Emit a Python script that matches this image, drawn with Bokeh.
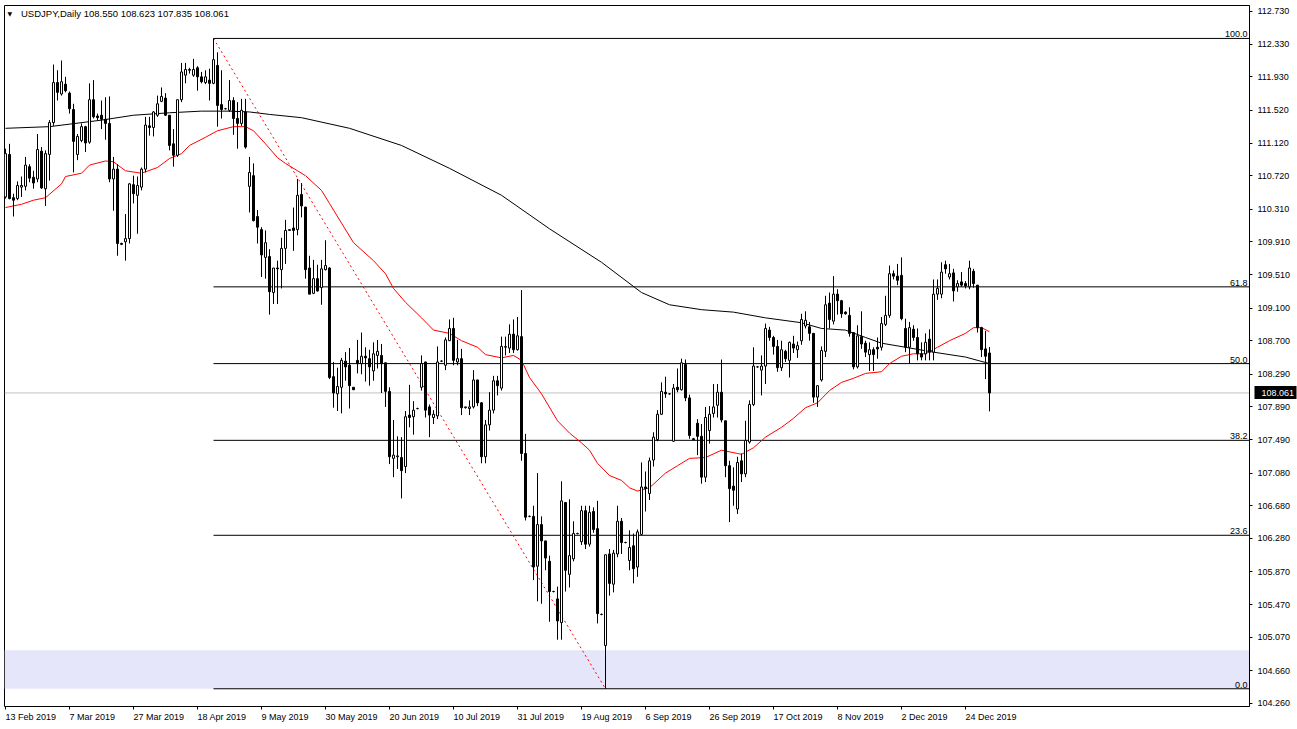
from bokeh.plotting import figure
from bokeh.models import (Range1d, FixedTicker, Span, BoxAnnotation, Label,
                          ColumnDataSource, PrintfTickFormatter, LinearAxis)
from bokeh.embed import file_html
from bokeh.resources import INLINE
from bokeh.core.properties import value

# ---------------- data ----------------
symbol_title = "USDJPY,Daily  108.550 108.623 107.835 108.061"
last_price = 108.061

opens = [110.46,110.98,110.45,110.44,110.58,110.59,110.83,110.70,110.68,111.02,
         110.56,110.98,111.37,111.86,111.72,111.84,111.73,111.53,110.98,111.15,
         111.32,111.13,111.65,111.45,111.46,111.41,111.36,110.68,110.80,109.89,
         109.91,109.95,110.61,110.48,110.58,110.80,111.33,111.31,111.46,111.63,
         111.67,111.46,111.11,110.97,111.65,111.95,112.01,111.95,112.04,111.93,
         111.86,111.89,111.85,112.07,111.59,111.54,111.52,111.64,111.42,111.36,
         111.50,110.59,110.72,110.22,110.06,109.72,109.73,109.29,109.59,109.57,
         109.83,110.05,110.08,110.06,110.49,110.335,109.59,109.28,109.46,109.35,
         109.57,109.59,108.26,108.05,108.13,108.45,108.40,108.13,108.46,108.42,
         108.51,108.48,108.33,108.52,108.52,108.43,108.08,107.26,107.28,107.27,
         107.16,107.79,107.77,107.87,108.13,108.44,107.89,107.76,107.78,108.45,
         108.40,108.70,108.85,108.44,108.48,107.88,107.87,107.89,108.22,107.94,
         107.28,107.67,107.85,108.21,108.12,108.62,108.61,108.78,108.59,108.75,
         107.32,106.55,106.55,105.94,106.45,106.25,106.00,105.63,105.54,105.25,
         106.72,105.84,106.03,106.34,106.24,106.62,106.21,106.61,106.40,105.35,
         104.97,106.09,105.72,106.09,106.49,106.23,106.01,106.19,105.93,106.33,
         106.91,106.83,107.24,107.49,107.80,108.07,108.05,107.47,108.13,108.10,
         108.41,108.00,107.50,107.69,107.53,107.03,107.60,107.81,107.91,108.07,
         107.72,107.17,106.92,106.64,107.23,107.07,107.46,107.92,108.38,108.34,
         108.39,108.83,108.74,108.63,108.37,108.57,108.46,108.66,108.59,108.70,
         108.88,108.87,108.79,108.01,108.22,108.57,109.16,108.94,109.27,109.19,
         109.05,109.01,108.80,108.38,108.75,108.67,108.53,108.59,108.62,108.62,
         108.90,109.01,109.52,109.49,109.50,108.85,108.62,108.84,108.74,108.54,
         108.54,108.72,108.56,109.27,109.27,109.63,109.48,109.53,109.36,109.42,
         109.40,109.36,109.55,109.38,108.86,108.60,108.550]
highs = [111.05,111.11,110.50,110.65,110.71,110.95,110.86,110.78,111.23,111.07,
         111.03,111.40,112.08,112.01,112.13,111.93,111.75,111.60,111.23,111.36,
         111.33,111.85,111.89,111.48,111.64,111.68,111.69,110.95,110.86,109.90,
         110.25,110.63,110.72,110.71,110.82,111.44,111.44,111.51,111.70,111.80,
         111.73,111.46,111.29,111.65,112.10,112.10,112.04,112.15,112.06,111.99,
         112.01,112.03,112.40,112.23,112.01,111.55,111.89,111.68,111.62,111.66,
         111.66,110.95,110.87,110.30,110.09,110.05,109.82,109.59,109.68,109.96,
         110.18,110.06,110.33,110.68,110.63,110.34,109.74,109.69,109.63,109.69,
         109.93,109.60,108.44,108.37,108.49,108.56,108.61,108.13,108.71,108.80,
         108.62,108.59,108.68,108.71,108.66,108.43,108.13,107.73,107.53,107.52,
         107.84,108.16,107.96,107.88,108.52,108.44,107.92,107.85,108.63,108.46,
         108.74,108.96,108.98,108.71,108.60,107.89,107.97,108.34,108.22,107.95,
         107.73,108.07,108.27,108.27,108.75,108.75,108.90,108.96,108.99,109.32,
         107.56,106.56,106.68,107.08,106.55,106.25,106.07,105.64,105.69,106.98,
         106.72,106.76,106.49,106.35,106.68,106.68,106.68,106.66,106.74,105.36,
         106.08,106.15,106.14,106.68,106.53,106.24,106.38,106.34,106.39,107.21,
         107.10,107.27,107.58,107.85,108.19,108.26,108.06,108.17,108.36,108.48,
         108.47,108.04,107.51,107.74,107.68,107.89,107.90,108.17,108.17,108.47,
         107.72,107.23,107.15,107.28,107.32,107.72,107.97,108.62,108.39,108.52,
         108.91,108.87,108.76,108.71,108.70,108.59,108.69,108.76,108.69,109.03,
         109.06,108.93,108.79,108.15,108.63,109.25,109.29,109.49,109.33,109.20,
         109.06,109.11,108.80,108.89,109.06,108.70,108.68,108.62,108.74,108.99,
         109.25,109.62,109.56,109.64,109.72,108.97,108.93,108.89,108.85,108.68,
         108.79,108.84,109.45,109.45,109.66,109.68,109.64,109.58,109.44,109.54,
         109.43,109.68,109.58,109.38,108.87,108.82,108.623]
lows = [110.44,110.43,110.22,110.42,110.46,110.54,110.64,110.56,110.64,110.56,
        110.35,110.66,111.33,111.64,111.70,111.74,111.48,110.76,110.91,111.13,
        111.01,111.11,111.42,111.40,111.29,111.16,110.64,110.29,109.74,109.87,
        109.68,109.89,110.38,110.01,110.54,110.76,111.21,111.20,111.44,111.62,
        111.45,111.03,110.83,110.95,111.62,111.85,111.97,111.93,111.76,111.85,
        111.84,111.64,111.84,111.32,111.42,111.53,111.50,111.22,111.05,111.33,
        111.05,110.27,110.16,109.89,109.48,109.46,109.02,109.15,109.15,109.34,
        109.64,110.05,109.80,109.99,110.21,109.46,109.27,109.27,109.30,109.14,
        109.56,108.23,107.88,107.84,107.81,108.21,107.87,108.10,108.30,108.29,
        108.20,108.15,108.21,108.36,108.06,107.89,107.19,107.03,107.13,106.77,
        107.08,107.64,107.55,107.86,108.09,107.76,107.52,107.68,107.74,108.44,
        108.34,108.70,108.40,108.40,107.79,107.87,107.79,107.87,107.90,107.20,
        107.20,107.60,107.81,108.03,108.09,108.52,108.55,108.55,108.58,107.23,
        106.50,106.54,105.77,105.51,105.48,105.89,105.26,105.62,105.04,105.04,
        105.63,105.68,106.00,106.33,106.20,106.15,106.18,106.35,105.24,105.34,
        104.44,105.58,105.62,106.05,106.09,106.22,105.89,105.73,105.81,106.32,
        106.61,106.75,107.16,107.47,107.79,108.00,108.04,107.46,108.07,108.09,
        107.96,107.50,107.48,107.30,106.95,106.97,107.44,107.76,107.76,107.70,
        107.03,106.48,106.68,106.58,106.97,107.03,107.44,107.90,108.37,108.03,
        108.17,108.70,108.53,108.32,108.33,108.44,108.25,108.55,108.49,108.65,
        108.85,108.70,107.94,107.89,108.20,108.50,108.85,108.90,109.02,108.98,
        109.02,108.75,108.35,108.36,108.60,108.50,108.33,108.33,108.48,108.58,
        108.88,108.98,109.45,109.38,108.95,108.56,108.42,108.70,108.46,108.46,
        108.46,108.46,108.46,109.20,109.22,109.52,109.45,109.18,109.30,109.36,
        109.34,109.33,109.35,108.80,108.50,108.23,107.835]
closes = [110.99,110.44,110.42,110.60,110.60,110.85,110.69,110.63,111.04,110.57,
          110.99,111.37,111.86,111.74,111.87,111.76,111.54,111.14,111.20,111.32,
          111.12,111.65,111.44,111.43,111.41,111.36,110.68,110.80,109.89,109.88,
          109.95,110.62,110.50,110.60,110.80,111.34,111.31,111.50,111.60,111.69,
          111.46,111.09,110.97,111.65,111.99,112.02,112.02,112.02,111.93,111.87,
          111.93,111.85,112.14,111.58,111.53,111.54,111.64,111.42,111.36,111.52,
          111.07,110.76,110.17,110.09,109.75,109.90,109.30,109.59,109.58,109.83,
          110.05,110.06,110.05,110.48,110.35,109.57,109.27,109.46,109.31,109.58,
          109.62,108.25,108.06,108.14,108.46,108.38,108.15,108.10,108.42,108.51,
          108.49,108.38,108.54,108.57,108.42,108.08,107.28,107.30,107.29,107.11,
          107.77,107.76,107.85,107.87,108.42,107.85,107.79,107.80,108.44,108.45,
          108.71,108.85,108.46,108.48,107.88,107.89,107.89,108.22,107.94,107.28,
          107.67,107.85,108.21,108.15,108.63,108.63,108.78,108.59,108.76,107.32,
          106.54,106.55,105.93,106.45,106.25,106.04,105.63,105.63,105.27,106.74,
          105.89,106.07,106.34,106.34,106.62,106.21,106.60,106.39,105.36,105.35,
          106.08,105.73,106.10,106.49,106.23,106.23,106.17,105.91,106.36,106.91,
          106.89,107.23,107.52,107.80,108.08,108.05,108.05,108.12,108.10,108.43,
          108.00,107.54,107.49,107.53,107.03,107.76,107.80,107.89,108.07,107.73,
          107.17,106.89,106.87,107.21,107.07,107.48,107.92,108.39,108.38,108.39,
          108.85,108.74,108.63,108.37,108.59,108.48,108.68,108.61,108.64,108.96,
          108.95,108.79,108.01,108.15,108.58,109.14,108.96,109.27,109.19,109.03,
          109.03,108.79,108.38,108.76,108.66,108.56,108.59,108.53,108.60,108.91,
          109.01,109.52,109.49,109.44,108.97,108.62,108.86,108.74,108.54,108.50,
          108.68,108.56,109.27,109.34,109.54,109.58,109.52,109.31,109.40,109.38,
          109.37,109.59,109.40,108.86,108.59,108.51,108.061]

# moving averages (bar index, price)
ma50_idx = [0,4,7,10,14,15,19,21,25,27,30,34,38,41,44,46,50,53,57,60,62,65,68,70,
            73,75,79,81,84,87,92,95,97,100,104,107,111,114,118,120,124,127,129,131,
            134,138,141,144,146,148,151,154,156,158,161,165,168,171,175,179,183,184,
            187,190,194,197,200,203,206,209,212,215,219,221,224,227,230,233,236,240,
            242,244,246]
ma50_val = [110.33,110.37,110.42,110.45,110.62,110.71,110.75,110.85,110.90,110.89,
            110.78,110.75,110.82,110.93,110.99,111.09,111.19,111.27,111.32,111.32,
            111.27,111.11,110.94,110.87,110.78,110.72,110.54,110.38,110.14,109.90,
            109.68,109.52,109.34,109.17,108.98,108.83,108.79,108.70,108.62,108.53,
            108.49,108.52,108.46,108.25,108.05,107.72,107.57,107.45,107.36,107.20,
            107.05,106.99,106.90,106.86,106.90,107.08,107.17,107.26,107.27,107.36,
            107.32,107.31,107.39,107.52,107.64,107.75,107.88,107.94,108.09,108.19,
            108.24,108.30,108.32,108.42,108.51,108.54,108.54,108.62,108.70,108.79,
            108.86,108.86,108.81]
ma200_idx = [0,11,24,32,41,49,56,61,66,74,86,99,111,124,136,149,159,166,174,182,
             190,199,204,210,215,219,225,232,240,246]
ma200_val = [111.30,111.32,111.40,111.46,111.49,111.51,111.51,111.50,111.47,111.43,
             111.30,111.09,110.81,110.48,110.07,109.66,109.29,109.14,109.08,109.05,
             108.98,108.92,108.85,108.83,108.74,108.67,108.62,108.56,108.50,108.42]

price_ticks = [112.730,112.330,111.930,111.520,111.120,110.720,110.310,109.910,
               109.510,109.100,108.700,108.290,107.890,107.490,107.080,106.680,
               106.280,105.870,105.470,105.070,104.660,104.260]
date_tick_idx = [0,16,32,48,64,80,96,112,128,144,160,176,192,208,224,240]
date_labels = ["13 Feb 2019","7 Mar 2019","27 Mar 2019","18 Apr 2019","9 May 2019",
               "30 May 2019","20 Jun 2019","10 Jul 2019","31 Jul 2019","19 Aug 2019",
               "6 Sep 2019","26 Sep 2019","17 Oct 2019","8 Nov 2019","2 Dec 2019",
               "24 Dec 2019"]

fib_ratios = [100.0, 61.8, 50.0, 38.2, 23.6, 0.0]
fib_hi_idx = 52      # swing high bar
fib_lo_idx = 150     # swing low bar
zone_low, zone_high = 104.44, 104.91   # shaded support zone

# ---------------- figure ----------------
FONT = "Liberation Sans"
AX_FS = 9           # axis font size, px
PX_PER_BAR = 4
W, H = 1297, 729
BL, BT, BR, BB = 4, 5, 48, 23
X0 = -0.25
X1 = X0 + (W - BL - BR) / PX_PER_BAR
Y0, Y1 = 104.223, 112.803

p = figure(width=W, height=H, output_backend="svg", toolbar_location=None,
           x_range=Range1d(X0, X1), y_range=Range1d(Y0, Y1),
           y_axis_location="right", min_border_left=BL, min_border_top=BT,
           min_border_right=BR, min_border_bottom=BB)
p.background_fill_color = "white"
p.border_fill_color = "white"
p.outline_line_color = "black"
p.outline_line_width = 1
p.xgrid.visible = False
p.ygrid.visible = False

def style_axis(ax):
    ax.axis_line_color = "black"
    ax.major_tick_line_color = "black"
    ax.major_tick_in = 0
    ax.major_tick_out = 3
    ax.minor_tick_in = 0
    ax.minor_tick_out = 0
    ax.minor_tick_line_color = None
    ax.major_label_text_font = FONT
    ax.major_label_text_font_size = "%dpx" % AX_FS
    ax.major_label_text_color = "black"

# price scale
yax = p.yaxis[0]
style_axis(yax)
yax.ticker = FixedTicker(ticks=price_ticks)
yax.formatter = PrintfTickFormatter(format="%.3f")
yax.major_label_standoff = 5

# current-price tag, stacked outside the price scale and reaching back over it
tag_ax = LinearAxis(ticker=FixedTicker(ticks=[last_price]))
style_axis(tag_ax)
tag_ax.formatter = PrintfTickFormatter(format="%.3f")
tag_ax.axis_line_color = None
tag_ax.major_tick_in = 39
tag_ax.major_tick_out = 3
tag_ax.major_tick_line_width = 13
tag_ax.major_tick_line_cap = "butt"
tag_ax.major_label_standoff = -35
tag_ax.major_label_text_color = "white"
p.add_layout(tag_ax, "right")

# date scale: tick marks at the dated bars ...
xax = p.xaxis[0]
style_axis(xax)
xax.axis_line_color = None
xax.ticker = FixedTicker(ticks=date_tick_idx)
xax.major_label_overrides = {i: "" for i in date_tick_idx}
xax.major_label_text_font_size = "0px"
xax.major_label_standoff = 0

# ... and labels drawn left-aligned from each tick (MT4 style): centre each
# label half its (Arial-metric) width to the right of its tick
EM = {' ': .278, 'F': .611, 'e': .556, 'b': .556, 'M': .833, 'a': .556, 'r': .333,
      'A': .667, 'p': .556, 'y': .5, 'J': .5, 'u': .556, 'n': .556, 'l': .222,
      'g': .556, 'S': .667, 'O': .778, 'c': .5, 't': .278, 'N': .722, 'o': .556,
      'v': .5, 'D': .722}
def text_px(s):
    return sum(EM.get(ch, .556) for ch in s) * AX_FS

label_pos = [i + (text_px(s) / 2) / PX_PER_BAR for i, s in zip(date_tick_idx, date_labels)]
lab_ax = LinearAxis(ticker=FixedTicker(ticks=label_pos))
style_axis(lab_ax)
lab_ax.axis_line_color = None
lab_ax.major_tick_line_color = None
lab_ax.major_tick_out = 0
lab_ax.major_label_standoff = 2
lab_ax.major_label_overrides = {pos: s for pos, s in zip(label_pos, date_labels)}
p.add_layout(lab_ax, "below")

# shaded zone
p.add_layout(BoxAnnotation(bottom=zone_low, top=zone_high, fill_color="#E6E6FA",
                           fill_alpha=1.0, line_color=None, level="underlay"))
# current price line
p.add_layout(Span(location=last_price, dimension="width", line_color="#C0C0C0",
                  line_width=1, level="underlay"))

# fibonacci retracement
hi = highs[fib_hi_idx]
lo = lows[fib_lo_idx]
fib_levels = [lo + (hi - lo) * r / 100.0 for r in fib_ratios]
p.segment(x0=[fib_hi_idx] * len(fib_levels), x1=[X1 + 5] * len(fib_levels),
          y0=fib_levels, y1=fib_levels, line_color="black", line_width=1)
p.text(x=[X1 - 0.5] * len(fib_levels), y=fib_levels,
       text=["%.1f" % r for r in fib_ratios], text_align="right",
       text_baseline="bottom", y_offset=-1, text_font=value(FONT),
       text_font_size="%dpx" % AX_FS, text_color="black")

# trend line
p.line(x=[fib_hi_idx, fib_lo_idx], y=[hi, lo], line_color="red", line_width=1,
       line_dash="2 3")

# moving averages
p.line(x=ma200_idx, y=ma200_val, line_color="black", line_width=1)
p.line(x=ma50_idx, y=ma50_val, line_color="red", line_width=1)

# candles
idx = list(range(len(opens)))
src = ColumnDataSource(dict(
    x=idx, o=opens, h=highs, l=lows, c=closes,
    top=[max(o, c) for o, c in zip(opens, closes)],
    bot=[min(o, c) for o, c in zip(opens, closes)],
    fill=["white" if c >= o else "black" for o, c in zip(opens, closes)],
))
p.segment(x0="x", y0="h", x1="x", y1="l", source=src, line_color="black", line_width=1)
p.vbar(x="x", width=0.5, top="top", bottom="bot", source=src,
       fill_color="fill", line_color="black", line_width=1)

# title
p.add_layout(Label(x=X0, y=Y1, x_offset=16.5, y_offset=-2, text=symbol_title,
                   text_font=FONT, text_font_size="9.5px", text_baseline="top",
                   text_color="black"))
p.add_layout(Label(x=X0, y=Y1, x_offset=3, y_offset=-4, text="\u25BC",
                   text_font="DejaVu Sans", text_font_size="6px", text_baseline="top",
                   text_color="black"))

open("out.html", "w").write(file_html(p, INLINE))
